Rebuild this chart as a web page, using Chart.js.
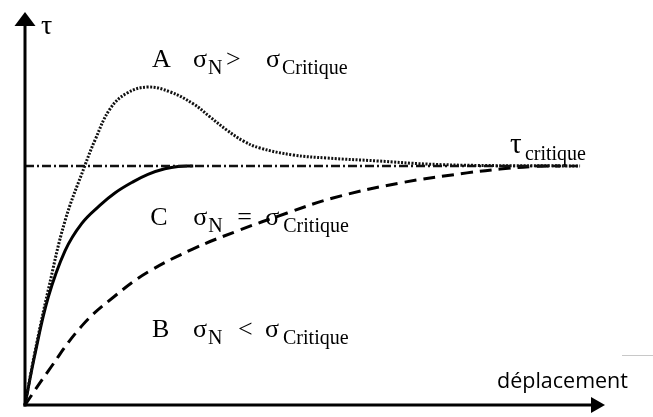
<!doctype html>
<html lang="fr">
<head>
<meta charset="utf-8">
<title>Courbes tau / déplacement</title>
<script src="https://cdn.jsdelivr.net/npm/chart.js@4.4.0/dist/chart.umd.min.js"></script>
<style>
  html, body { margin: 0; padding: 0; background: #fff; }
  .chart-wrap { width: 653px; height: 417px; position: relative; }
</style>
</head>
<body>
<div class="chart-wrap"><canvas id="chart"></canvas></div>
<script>
'use strict';

// displacement (arbitrary units) and tau / tau_critique
const xA = [0, 0.17, 0.40, 0.69, 1.03, 1.21, 1.47, 1.76, 2.12, 2.50, 2.90, 3.19, 3.48, 3.76, 4.05, 4.62, 5.21, 6.07, 6.93, 7.85, 9.57];
const yA = [0, 0.22, 0.48, 0.77, 1.00, 1.11, 1.24, 1.305, 1.33, 1.31, 1.26, 1.205, 1.15, 1.105, 1.075, 1.046, 1.033, 1.021, 1.008, 1.002, 1.0];

const xC = [0, 0.17, 0.40, 0.69, 0.98, 1.29, 1.55, 1.85, 2.12, 2.41, 2.64, 2.90];
const yC = [0, 0.21, 0.45, 0.645, 0.76, 0.835, 0.887, 0.932, 0.965, 0.988, 0.998, 1.0];

const xB = [0, 0.40, 0.98, 1.55, 2.12, 2.90, 3.66, 4.52, 5.31, 6.47, 7.62, 8.19, 8.76, 9.22];
const yB = [0, 0.142, 0.331, 0.456, 0.556, 0.653, 0.728, 0.803, 0.866, 0.929, 0.971, 0.987, 0.998, 1.0];

const xCritique = [0, 9.57];
const yCritique = [1, 1];

const X_MAX = 10;
const Y_MAX = 1.644;

function pts(xs, ys) {
  return xs.map((x, i) => ({ x, y: ys[i] }));
}

const SERIF = '"Liberation Serif", "DejaVu Serif", serif';
const SANS = '"Open Sans", "Liberation Sans", sans-serif';

// text annotations, positioned in data units; dx offsets in px
const labels = [
  { x: 2.19, y: 1.414, parts: [
    { t: 'A', dx: 0 }, { t: 'σ', dx: 41 }, { t: 'N', dx: 56, sub: true },
    { t: '>', dx: 74 }, { t: 'σ', dx: 114 }, { t: 'Critique', dx: 130, sub: true } ] },
  { x: 2.16, y: 0.753, parts: [
    { t: 'C', dx: 0 }, { t: 'σ', dx: 43 }, { t: 'N', dx: 58, sub: true },
    { t: '=', dx: 87 }, { t: 'σ', dx: 115 }, { t: 'Critique', dx: 133, sub: true } ] },
  { x: 2.19, y: 0.284, parts: [
    { t: 'B', dx: 0 }, { t: 'σ', dx: 41 }, { t: 'N', dx: 56, sub: true },
    { t: '<', dx: 86 }, { t: 'σ', dx: 113 }, { t: 'Critique', dx: 131, sub: true } ] },
  { x: 8.36, y: 1.054, parts: [
    { t: 'τ', dx: 0, big: true }, { t: 'critique', dx: 15, sub: true } ] },
];

const axesPlugin = {
  id: 'axes',
  afterDatasetsDraw(chart) {
    const ctx = chart.ctx;
    const xs = chart.scales.x, ys = chart.scales.y;
    const x0 = xs.getPixelForValue(0), y0 = ys.getPixelForValue(0);
    const xEnd = xs.getPixelForValue(X_MAX), yEnd = ys.getPixelForValue(Y_MAX);

    ctx.save();
    ctx.strokeStyle = '#000';
    ctx.fillStyle = '#000';
    ctx.lineWidth = 3;
    ctx.setLineDash([]);
    // y axis
    ctx.beginPath();
    ctx.moveTo(x0, y0 + 1.5);
    ctx.lineTo(x0, yEnd + 10);
    ctx.stroke();
    ctx.beginPath();
    ctx.moveTo(x0, yEnd);
    ctx.lineTo(x0 - 10.5, yEnd + 14);
    ctx.lineTo(x0 + 10.5, yEnd + 14);
    ctx.closePath();
    ctx.fill();
    // x axis
    ctx.beginPath();
    ctx.moveTo(x0 - 1.5, y0);
    ctx.lineTo(xEnd - 10, y0);
    ctx.stroke();
    ctx.beginPath();
    ctx.moveTo(xEnd, y0);
    ctx.lineTo(xEnd - 14, y0 - 8);
    ctx.lineTo(xEnd - 14, y0 + 8);
    ctx.closePath();
    ctx.fill();

    // axis titles
    ctx.textBaseline = 'alphabetic';
    ctx.font = '28px ' + SERIF;
    ctx.fillText('τ', x0 + 16, yEnd + 22);
    ctx.font = '21.5px ' + SANS;
    ctx.fillText('déplacement', xEnd - 108, y0 - 17);

    // curve annotations
    labels.forEach(l => {
      const px = xs.getPixelForValue(l.x), py = ys.getPixelForValue(l.y);
      l.parts.forEach(p => {
        ctx.font = (p.sub ? '20px ' : p.big ? '29px ' : '26px ') + SERIF;
        ctx.fillText(p.t, px + p.dx, py + (p.sub ? 7 : 0));
      });
    });

    // faint scan mark at the right edge
    ctx.strokeStyle = '#c8c8c8';
    ctx.lineWidth = 1;
    ctx.beginPath();
    ctx.moveTo(xEnd + 17, y0 - 49.5);
    ctx.lineTo(chart.width, y0 - 49.5);
    ctx.stroke();
    ctx.restore();
  }
};

new Chart(document.getElementById('chart'), {
  type: 'scatter',
  data: {
    datasets: [
      { label: 'critique', data: pts(xCritique, yCritique), showLine: true,
        borderColor: '#111', borderWidth: 2.5, borderDash: [9, 3, 2, 3], pointRadius: 0, clip: false },
      { label: 'A', data: pts(xA, yA), showLine: true, tension: 0.4,
        borderColor: '#111', borderWidth: 3, borderDash: [2, 1.5], pointRadius: 0, clip: false },
      { label: 'C', data: pts(xC, yC), showLine: true, tension: 0.4,
        borderColor: '#000', borderWidth: 3, pointRadius: 0, clip: false },
      { label: 'B', data: pts(xB, yB), showLine: true, tension: 0.4,
        borderColor: '#000', borderWidth: 3, borderDash: [12, 7], pointRadius: 0, clip: false },
    ]
  },
  options: {
    responsive: true,
    maintainAspectRatio: false,
    animation: false,
    layout: { padding: { left: 25, right: 48, top: 12, bottom: 12 } },
    plugins: { legend: { display: false }, tooltip: { enabled: false } },
    scales: {
      x: { type: 'linear', min: 0, max: X_MAX, display: false },
      y: { type: 'linear', min: 0, max: Y_MAX, display: false }
    }
  },
  plugins: [axesPlugin]
});
</script>
</body>
</html>
